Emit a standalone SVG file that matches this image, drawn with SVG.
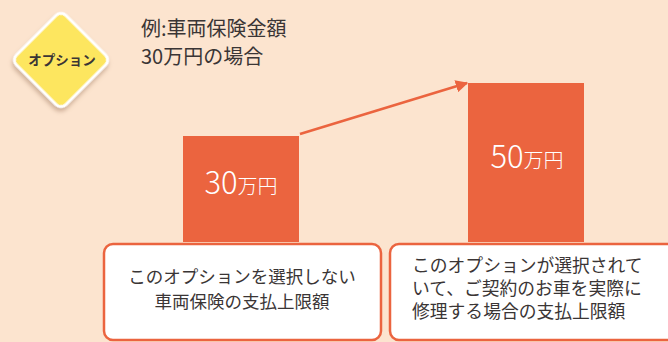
<svg xmlns="http://www.w3.org/2000/svg" width="668" height="342" viewBox="0 0 668 342">
<defs>
<style>
.t{font-family:"Noto Sans CJK JP","Noto Sans",sans-serif;fill:#3a3535}
.w{font-family:"Noto Sans CJK JP","Noto Sans",sans-serif;fill:#ffffff;font-weight:300}
.bar{fill:#eb643f}
.box{fill:#ffffff;stroke:#eb643f;stroke-width:2.5}
</style>
<marker id="ah" viewBox="0 0 10 10" refX="9" refY="5" markerWidth="5" markerHeight="5" orient="auto" markerUnits="strokeWidth">
<path d="M0,0 L10,5 L0,10 z" fill="#eb643f"/>
</marker>
<filter id="sh" x="-30%" y="-30%" width="160%" height="160%">
<feGaussianBlur in="SourceAlpha" stdDeviation="2"/>
<feOffset dx="2" dy="3" result="b"/>
<feFlood flood-color="#a07a60" flood-opacity="0.5"/>
<feComposite in2="b" operator="in"/>
<feMerge><feMergeNode/><feMergeNode in="SourceGraphic"/></feMerge>
</filter>
</defs>
<rect width="668" height="342" fill="#fce4cf"/>
<g id="badge">
<rect x="26" y="25" width="70" height="70" rx="7" transform="rotate(45 61 60)" fill="#fde65f" stroke="#ffffff" stroke-width="3" filter="url(#sh)"/>
<text class="t" x="62" y="65" font-size="13.5" font-weight="bold" text-anchor="middle" fill="#222">オプション</text>
</g>
<g id="title">
<text class="t" x="141" y="36" font-size="20">例:車両保険金額</text>
<text class="t" x="141" y="64" font-size="20">30万円の場合</text>
</g>
<g id="bar30">
<rect class="bar" x="183" y="136" width="116" height="106"/>
<text class="w" x="241" y="194" text-anchor="middle"><tspan font-size="31">30</tspan><tspan font-size="20">万円</tspan></text>
</g>
<g id="bar50">
<rect class="bar" x="468" y="83" width="116" height="159"/>
<text class="w" x="527" y="168" text-anchor="middle"><tspan font-size="31">50</tspan><tspan font-size="20">万円</tspan></text>
</g>
<g id="connectors">
<line x1="300" y1="134" x2="467" y2="83" stroke="#eb643f" stroke-width="2.5" marker-end="url(#ah)"/>
</g>
<g id="box1">
<rect class="box" x="104" y="244" width="277" height="96" rx="9"/>
<text class="t" x="242" y="283" font-size="17.5" text-anchor="middle">このオプションを選択しない</text>
<text class="t" x="242" y="308" font-size="17.5" text-anchor="middle">車両保険の支払上限額</text>
</g>
<g id="box2">
<rect class="box" x="390" y="244" width="290" height="96" rx="9"/>
<text class="t" x="412" y="272" font-size="17.8">このオプションが選択されて</text>
<text class="t" x="412" y="295" font-size="17.8">いて、ご契約のお車を実際に</text>
<text class="t" x="412" y="318" font-size="17.8">修理する場合の支払上限額</text>
</g>
</svg>
